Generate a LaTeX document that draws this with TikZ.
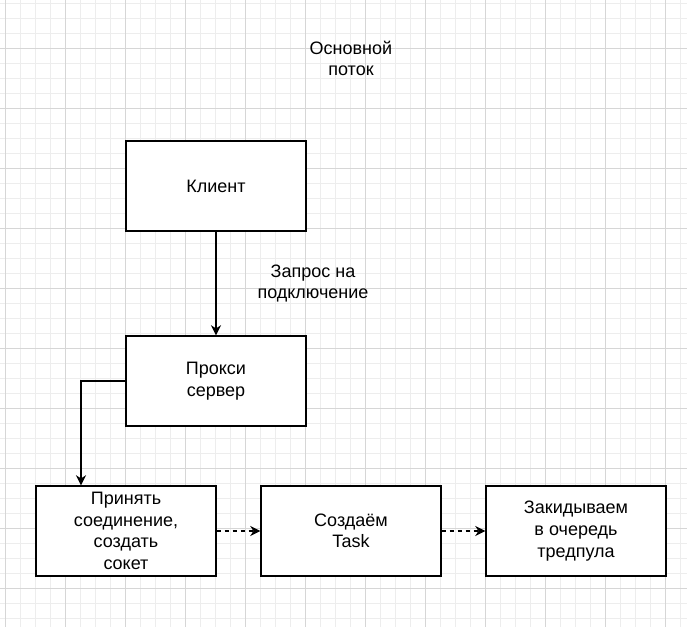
\documentclass[tikz,border=0pt]{standalone}
\usepackage{fontspec}
\setmainfont{Liberation Sans}
\usepackage{xcolor}
\usepackage{tikz}
\usetikzlibrary{positioning, arrows.meta}

\definecolor{gridminor}{HTML}{EDEDED}
\definecolor{gridmajor}{HTML}{D6D6D6}

\begin{document}
\begin{tikzpicture}[x=0.75pt, y=-0.75pt, node distance=146.25pt,
    >={Stealth[length=7.5pt, width=7.5pt, inset=2.4pt]},
    every node/.style={font=\fontsize{13.5pt}{16.2pt}\selectfont},
    stage/.style={rectangle, draw, line width=1.1pt, fill=white, align=center,
        minimum width=135pt, minimum height=67.5pt, inner sep=2pt},
    link/.style={->, line width=1.1pt},
    gridthin/.style={draw=gridminor, line width=0.75pt},
    gridthick/.style={draw=gridmajor, line width=0.75pt}]
    \useasboundingbox (0,0) rectangle (687,627);
    \fill[white] (0,0) rectangle (687,627);

    % background grid
    \foreach \x in {5,20,...,680} \draw[gridthin] (\x,0) -- (\x,627);
    \foreach \y in {4,19,...,619} \draw[gridthin] (0,\y) -- (687,\y);
    \foreach \x in {5,65,...,665} \draw[gridthick] (\x,0) -- (\x,627);
    \foreach \y in {49,109,...,589} \draw[gridthick] (0,\y) -- (687,\y);

    \node (klient) [stage] at (216,186) {Клиент};
    \node (potok) [above of=klient, xshift=101.25pt, yshift=-50.625pt, align=center] {Основной\\поток};
    \node (proxy) [below of=klient, stage] {Прокси\\сервер};
    \node (prinyat) [below of=proxy, stage, xshift=-67.5pt, yshift=33.75pt] {Принять\\соединение,\\создать\\сокет};
    \node (sozdaem) [right of=prinyat, stage, xshift=22.5pt] {Создаём\\Task};
    \node (zakid) [right of=sozdaem, stage, xshift=22.5pt] {Закидываем\\в очередь\\тредпула};

    \draw [link] (klient) -- node[xshift=72.75pt, align=center] {Запрос на\\подключение} (proxy);
    \draw [link] (proxy.west) -| ([xshift=-33.75pt]prinyat.north);
    \draw [link, dashed, dash pattern=on 3.4pt off 2.6pt] (prinyat) -- (sozdaem);
    \draw [link, dashed, dash pattern=on 3.4pt off 2.6pt] (sozdaem) -- (zakid);
\end{tikzpicture}
\end{document}
